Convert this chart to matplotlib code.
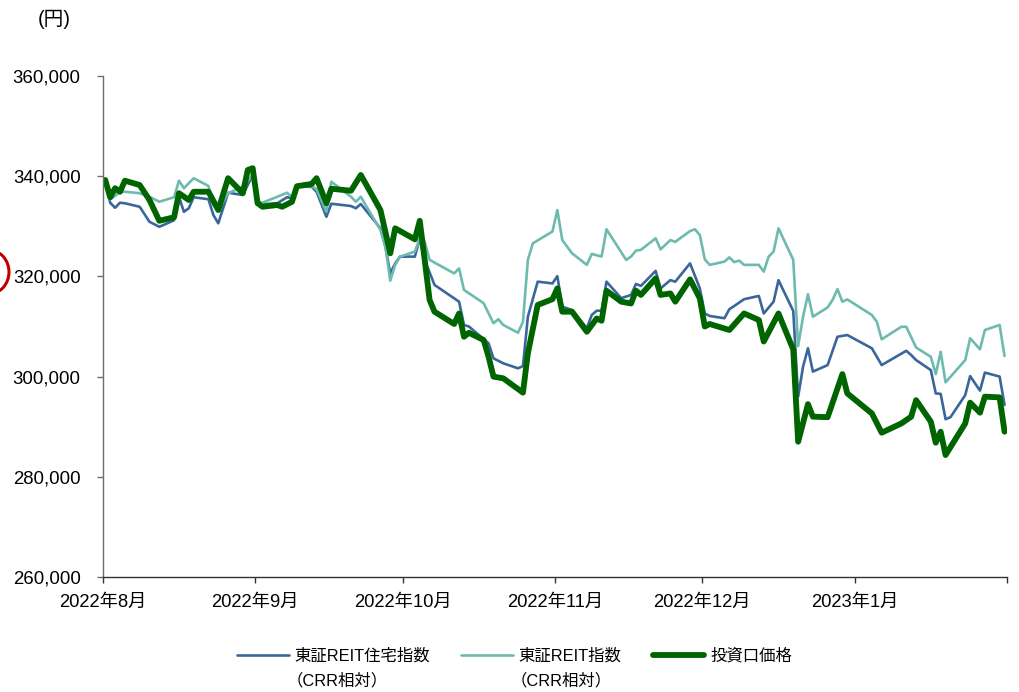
import numpy as np
import matplotlib
matplotlib.use("Agg")
import matplotlib.pyplot as plt
import matplotlib.ticker as mticker
import matplotlib.dates as mdates
from matplotlib.patches import Ellipse

# ---- data: trading-day offsets from 2022-08-01 and index / price levels ----
housing_days = [0, 1, 2, 3, 4, 7, 9, 11, 14, 15, 16, 17, 18, 21, 22, 23, 25, 28, 30,
                31, 32, 35, 37, 38, 39, 42, 43, 45, 46, 50, 51, 52, 56, 57, 58, 59, 60,
                63, 64, 65, 67, 72, 73, 74, 78, 79, 81, 84, 85, 86, 88, 91, 92, 93, 95,
                98, 99, 100, 101, 102, 105, 107, 108, 109, 112, 113, 115, 116, 119, 121,
                122, 123, 126, 127, 128, 130, 133, 134, 136, 137, 140, 141, 142, 143,
                144, 147, 149, 151, 156, 158, 163, 164, 165, 168, 169, 170, 171, 172,
                175, 176, 178, 179, 182, 183]
housing_vals = [339100, 334700, 333700, 334700, 334600, 333900, 330900, 329900, 331200,
                335900, 332900, 333600, 335800, 335400, 332250, 330600, 336700, 336250,
                340250, 334900, 334400, 334600, 335800, 335600, 337900, 337900, 336900,
                331900, 334500, 334050, 333600, 334450, 329600, 325950, 320600, 322600,
                323950, 323950, 327600, 323300, 318300, 314950, 310300, 310000, 306650,
                303650, 302650, 301650, 302100, 311950, 318950, 318600, 320050, 313950,
                313300, 309650, 312300, 313150, 313150, 318950, 315650, 316300, 318500,
                318100, 321100, 317600, 319250, 318950, 322600, 317600, 312600, 312100,
                311650, 313450, 314100, 315450, 316100, 312600, 314950, 319250, 313100,
                296000, 302000, 305650, 301000, 302300, 307950, 308300, 305650, 302300,
                305150, 304300, 303300, 301300, 296650, 296550, 291500, 291900, 296300,
                300100, 297200, 300800, 300000, 294350]

reit_days = [0, 1, 2, 3, 4, 7, 9, 11, 14, 15, 16, 18, 21, 22, 23, 25, 28, 30, 31, 32,
             35, 37, 38, 39, 42, 43, 45, 46, 50, 51, 52, 56, 57, 58, 59, 60, 63, 64, 65,
             66, 71, 72, 73, 77, 79, 80, 81, 84, 85, 86, 87, 91, 92, 93, 95, 98, 99,
             101, 102, 106, 107, 108, 109, 112, 113, 115, 116, 119, 120, 121, 122, 123,
             126, 127, 128, 129, 130, 133, 134, 135, 136, 137, 140, 141, 142, 143, 144,
             147, 148, 149, 150, 151, 156, 157, 158, 162, 163, 165, 168, 169, 170, 171,
             175, 176, 178, 179, 182, 183]
reit_vals = [339100, 335400, 336050, 336900, 336900, 336600, 335900, 334900, 335800,
             339100, 337600, 339600, 338050, 334250, 333250, 336600, 337900, 340250,
             334900, 334700, 335900, 336700, 335800, 337900, 338050, 337400, 332900,
             338900, 335900, 334900, 335900, 329250, 325950, 319150, 322300, 323950,
             324950, 327600, 326950, 323300, 320600, 321600, 317300, 314650, 310650,
             311450, 310300, 308750, 310950, 323300, 326600, 328950, 333250, 327250,
             324600, 322300, 324500, 323950, 329400, 323300, 323950, 325150, 325300,
             327600, 325400, 327250, 326900, 329050, 329400, 328250, 323400, 322300,
             322950, 323800, 322850, 323150, 322300, 322300, 320950, 323950, 324950,
             329600, 323300, 306100, 311950, 316450, 311950, 313800, 315300, 317450,
             314950, 315400, 312300, 310950, 307450, 309950, 309950, 305800, 303950,
             300500, 304950, 298850, 303300, 307650, 305450, 309300, 310300, 304100]

price_days = [0, 1, 2, 3, 4, 7, 9, 11, 14, 15, 17, 18, 21, 23, 25, 28, 29, 30, 31, 32,
              35, 36, 38, 39, 42, 43, 45, 46, 50, 52, 56, 58, 59, 63, 64, 65, 66, 67,
              71, 72, 73, 74, 77, 78, 79, 81, 85, 86, 88, 91, 92, 93, 95, 98, 100, 101,
              102, 105, 107, 108, 109, 112, 113, 115, 116, 119, 121, 122, 123, 127, 130,
              133, 134, 137, 140, 141, 143, 144, 147, 150, 151, 156, 158, 162, 164, 165,
              168, 169, 170, 171, 175, 176, 178, 179, 182, 183]
price_vals = [339240, 335800, 337600, 336900, 339100, 338240, 335250, 331100, 331800,
              336600, 335250, 336900, 336900, 333250, 339600, 336600, 341240, 341600,
              334600, 333900, 334250, 333900, 334900, 338000, 338450, 339600, 334600,
              337500, 337100, 340240, 333250, 324600, 329600, 327400, 331100, 323300,
              315300, 312950, 310500, 312600, 307950, 308750, 307300, 303950, 300000,
              299650, 296800, 304650, 314300, 315450, 317600, 312950, 312950, 308950,
              311600, 311150, 317150, 314950, 314600, 317150, 316300, 319600, 316300,
              316600, 314950, 319400, 315600, 310000, 310500, 309300, 312600, 311300,
              307000, 312600, 305400, 287000, 294500, 292000, 291900, 300500, 296650,
              292650, 288800, 290650, 292000, 295300, 291000, 286800, 289000, 284350,
              290650, 294800, 292800, 296000, 295850, 289000]

series_labels = ["東証REIT住宅指数", "東証REIT指数", "投資口価格"]
series_notes = ["（CRR相対）", "（CRR相対）", None]
month_starts = ["2022-08-01", "2022-09-01", "2022-10-01", "2022-11-01",
                "2022-12-01", "2023-01-01", "2023-02-01"]
month_labels = ["2022年8月", "2022年9月", "2022年10月", "2022年11月",
                "2022年12月", "2023年1月", ""]
y_ticks = [260000, 280000, 300000, 320000, 340000, 360000]
unit_label = "(円)"

# ---- style ----
FONTS = ["Liberation Sans", "Noto Sans CJK JP", "DejaVu Sans"]
plt.rcParams["font.family"] = FONTS
colors = ["#3A679B", "#6DBBAE", "#006400"]
widths = [1.9, 1.9, 4.2]

W, H = 1020, 692
fig = plt.figure(figsize=(W / 100, H / 100), dpi=100)
ax = fig.add_axes([102.8 / W, 1 - 577 / H, (1007 - 102.8) / W, (577 - 76) / H])

base = np.datetime64("2022-08-01T12:00")


def to_dates(days):
    return base + np.array(days) * np.timedelta64(1, "D")


lines = []
for days, vals, c, lw, lab in zip([housing_days, reit_days, price_days],
                                  [housing_vals, reit_vals, price_vals],
                                  colors, widths, series_labels):
    ln, = ax.plot(to_dates(days), vals, color=c, lw=lw, label=lab,
                  solid_joinstyle="round", solid_capstyle="round")
    lines.append(ln)

ax.set_xlim(np.datetime64("2022-08-01T00:00"), np.datetime64("2023-02-01T00:00"))
ax.set_ylim(260000, 360000)

tick_dates = [np.datetime64(d + "T00:00") for d in month_starts]
ax.set_xticks([mdates.date2num(d) for d in tick_dates])
ax.set_xticklabels(month_labels)
ax.set_yticks(y_ticks)
ax.yaxis.set_major_formatter(mticker.FuncFormatter(lambda v, p: f"{int(v):,}"))

for s in ["top", "right"]:
    ax.spines[s].set_visible(False)
ax.spines["left"].set_color("#6E6E6E")
ax.spines["bottom"].set_color("#333333")
ax.spines["left"].set_linewidth(1.0)
ax.spines["bottom"].set_linewidth(1.0)
ax.tick_params(axis="y", direction="out", length=4, width=1.0, color="#6E6E6E",
               pad=12, labelsize=13.4, labelcolor="black")
ax.tick_params(axis="x", direction="out", length=4, width=1.0, color="#333333",
               pad=8, labelsize=13.2, labelcolor="black")

fig.text(38 / W, 1 - 19 / H, unit_label, fontsize=14.2, ha="left", va="center")

# legend along the bottom
leg = fig.legend(handles=lines, loc="center", ncol=3,
                 bbox_to_anchor=(514.6 / W, 1 - 656 / H), frameon=False,
                 fontsize=11.8, handlelength=3.15, handletextpad=0.35,
                 columnspacing=1.9, borderpad=0.0)
fig.canvas.draw()
renderer = fig.canvas.get_renderer()
for txt, note in zip(leg.get_texts(), series_notes):
    if note:
        bb = txt.get_window_extent(renderer)
        fig.text((bb.x0 - 8) / W, (bb.y0 + bb.y1) / 2 / H - 25 / H, note,
                 fontsize=11.8, ha="left", va="center")

# red highlight mark on the left margin
fig.add_artist(Ellipse((-11 / W, 1 - 272 / H), 40 / W, 44 / H, fill=False,
                       edgecolor="#C00000", lw=2.2, clip_on=False))

fig.savefig("out.png", dpi=100)
